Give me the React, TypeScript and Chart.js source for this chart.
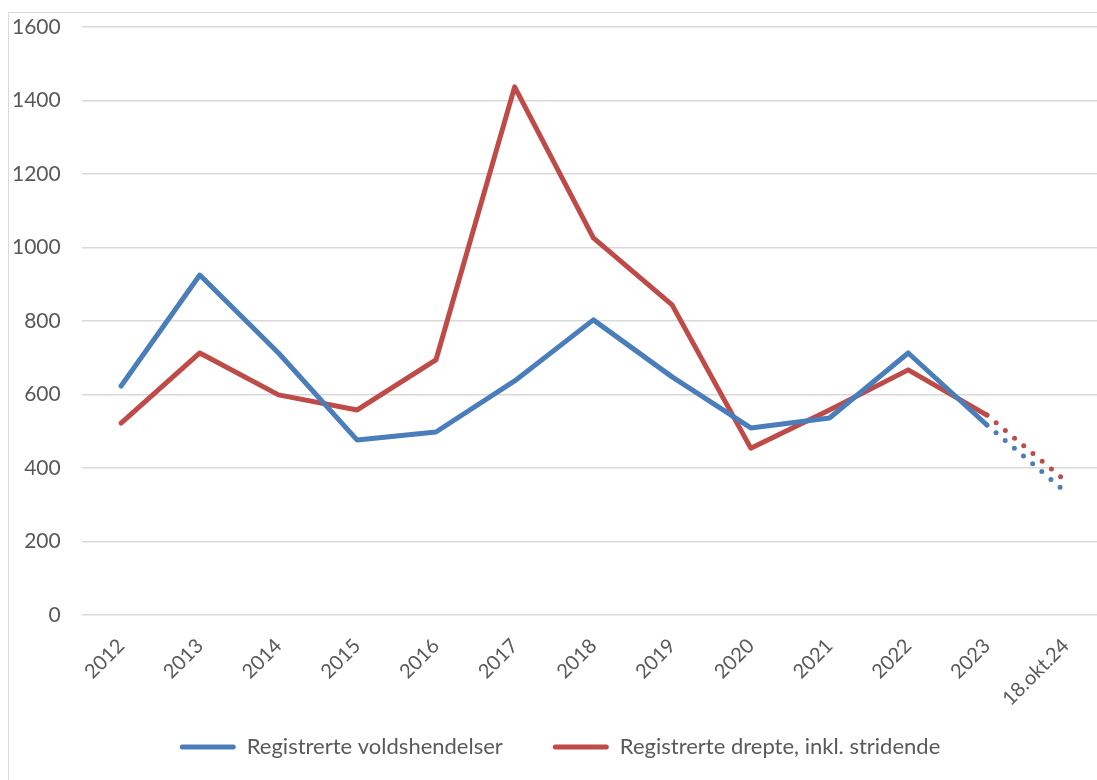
import React, { useEffect, useRef } from "react";
import { Chart, registerables } from "chart.js";

Chart.register(...registerables);

const categories = ["2012", "2013", "2014", "2015", "2016", "2017", "2018", "2019", "2020", "2021", "2022", "2023", "18.okt.24"];
const voldshendelser = [623, 925, 713, 476, 498, 637, 803, 648, 509, 536, 713, 517, 335];
const drepte = [522, 713, 599, 558, 694, 1437, 1026, 844, 454, 558, 667, 544, 365];
const yTicks = [0, 200, 400, 600, 800, 1000, 1200, 1400, 1600];

const FONT = "Lato, 'Noto Sans', sans-serif";
const TEXT = "#595959";

export default function App() {
  const ref = useRef<HTMLCanvasElement | null>(null);
  useEffect(() => {
    if (!ref.current) return;
    const lastDash = (ctx: any) => (ctx.p1DataIndex === categories.length - 1 ? [0, 12] : undefined);
    const shiftLegend = {
      id: "shiftLegend",
      afterLayout(c: any) {
        if (c.legend) {
          c.legend.left += 12;
          c.legend.right += 12;
        }
      },
    };
    const chart = new Chart(ref.current, {
      type: "line",
      plugins: [shiftLegend],
      data: {
        labels: categories,
        datasets: [
          {
            label: "Registrerte voldshendelser",
            data: voldshendelser,
            borderColor: "#4a7ebb",
            backgroundColor: "#4a7ebb",
            borderWidth: 5,
            borderCapStyle: "round",
            borderJoinStyle: "round",
            pointRadius: 0,
            tension: 0,
            segment: { borderDash: lastDash },
          },
          {
            label: "Registrerte drepte, inkl. stridende",
            data: drepte,
            borderColor: "#be4b48",
            backgroundColor: "#be4b48",
            borderWidth: 5,
            borderCapStyle: "round",
            borderJoinStyle: "round",
            pointRadius: 0,
            tension: 0,
            segment: { borderDash: lastDash },
          },
        ],
      },
      options: {
        animation: false,
        responsive: false,
        maintainAspectRatio: false,
        layout: { padding: { left: -18, right: 0, top: 14, bottom: 12 } },
        plugins: {
          tooltip: { enabled: false },
          legend: {
            position: "bottom",
            labels: {
              color: TEXT,
              font: { family: FONT, size: 22 },
              boxWidth: 56,
              boxHeight: 5,
              padding: 50,
              useBorderRadius: true,
              borderRadius: 2.5,
              generateLabels: (c: any) =>
                Chart.defaults.plugins.legend.labels.generateLabels(c).map((l: any) => ({
                  ...l,
                  fillStyle: l.strokeStyle,
                  lineWidth: 0,
                  lineDash: [],
                })),
            },
          },
        },
        scales: {
          x: {
            offset: true,
            grid: { display: false },
            border: { display: false },
            afterFit: (scale: any) => {
              scale.height = 71;
              scale.paddingLeft = 0;
              scale.paddingRight = 0;
              scale._computeLabelArea = () => undefined;
            },
            ticks: {
              color: TEXT,
              font: { family: FONT, size: 20 },
              minRotation: 45,
              maxRotation: 45,
              autoSkip: false,
              padding: 11,
            },
          },
          y: {
            min: 0,
            max: 1600,
            afterBuildTicks: (axis: any) => {
              axis.ticks = yTicks.map((v) => ({ value: v }));
            },
            afterFit: (scale: any) => {
              scale.paddingTop = 0;
              scale.paddingBottom = 0;
            },
            grid: { color: "#d9d9d9", lineWidth: 1.5, drawTicks: false },
            border: { display: false },
            ticks: {
              color: TEXT,
              font: { family: FONT, size: 21 },
              padding: 21,
              callback: (v: any) => String(v),
            },
          },
        },
      },
    });
    return () => chart.destroy();
  }, []);

  return (
    <div
      style={{
        position: "fixed",
        left: 8,
        top: 12,
        width: 1100,
        height: 768,
        borderLeft: "1px solid #d9d9d9",
        borderTop: "1px solid #d9d9d9",
        background: "#fff",
      }}
    >
      <canvas ref={ref} width={1096} height={767} style={{ display: "block" }} />
    </div>
  );
}
